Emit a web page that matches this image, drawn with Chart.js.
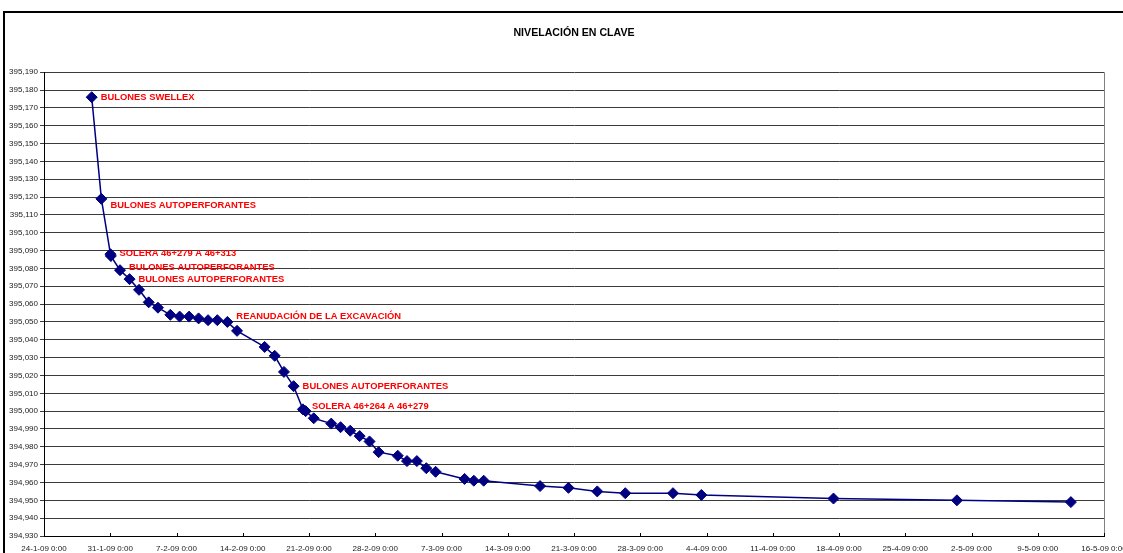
<!DOCTYPE html>
<html>
<head>
<meta charset="utf-8">
<title>Nivelación en clave</title>
<script src="https://cdn.jsdelivr.net/npm/chart.js@4.4.0/dist/chart.umd.min.js"></script>
<style>
    html, body { margin: 0; padding: 0; background: #fff; overflow: hidden; }
    #wrap { position: relative; width: 1123px; height: 553px; overflow: hidden; }
    #frame { position: absolute; left: 3px; top: 11px; width: 1200px; height: 600px;
             border-top: 2px solid #000; border-left: 2px solid #000; }
    #chart { position: absolute; left: 0; top: 0; }
</style>
</head>
<body>
<div id="wrap">
    <div id="frame"></div>
    <canvas id="chart" width="1123" height="553"></canvas>
</div>
<script>
// ================= DATA =================
const startDate = "2009-01-24T00:00";
const endDate = "2009-05-16T00:00";

const readingDates = [
    "2009-01-29T01:00", "2009-01-30T01:30", "2009-01-31T00:30", "2009-01-31T01:30",
    "2009-02-01T00:45", "2009-02-02T01:00", "2009-02-03T01:00", "2009-02-04T01:30",
    "2009-02-05T01:00", "2009-02-06T08:24", "2009-02-07T08:00", "2009-02-08T08:00",
    "2009-02-09T08:00", "2009-02-10T08:00", "2009-02-11T07:30", "2009-02-12T09:00",
    "2009-02-13T09:30", "2009-02-16T07:30", "2009-02-17T09:00", "2009-02-18T08:30",
    "2009-02-19T09:00", "2009-02-20T08:30", "2009-02-20T15:30", "2009-02-21T12:00",
    "2009-02-23T08:30", "2009-02-24T08:00", "2009-02-25T08:30", "2009-02-26T08:30",
    "2009-02-27T09:30", "2009-02-28T08:30", "2009-03-02T09:00", "2009-03-03T08:30",
    "2009-03-04T09:30", "2009-03-05T09:30", "2009-03-06T09:00", "2009-03-09T10:30",
    "2009-03-10T10:00", "2009-03-11T11:00", "2009-03-17T10:00", "2009-03-20T10:00",
    "2009-03-23T11:00", "2009-03-26T10:00", "2009-03-31T11:00", "2009-04-03T11:00",
    "2009-04-17T10:00", "2009-04-30T11:00", "2009-05-12T12:00"
];

const levels = [
    395.176, 395.119, 395.088, 395.087,
    395.079, 395.074, 395.068, 395.061,
    395.058, 395.054, 395.053, 395.053,
    395.052, 395.051, 395.051, 395.050,
    395.045, 395.036, 395.031, 395.022,
    395.014, 395.001, 395.000, 394.996,
    394.993, 394.991, 394.989, 394.986,
    394.983, 394.977, 394.975, 394.972,
    394.972, 394.968, 394.966, 394.962,
    394.961, 394.961, 394.958, 394.957,
    394.955, 394.954, 394.954, 394.953,
    394.951, 394.950, 394.949
];

// note text per reading ("" = none)
const notes = [
    "BULONES SWELLEX", "BULONES AUTOPERFORANTES", "SOLERA 46+279 A 46+313", "",
    "BULONES AUTOPERFORANTES", "BULONES AUTOPERFORANTES", "", "",
    "", "", "", "",
    "", "", "", "REANUDACIÓN DE LA EXCAVACIÓN",
    "", "", "", "",
    "BULONES AUTOPERFORANTES", "SOLERA 46+264 A 46+279", "", "",
    "", "", "", "", "", "", "", "", "", "", "", "", "", "", "", "", "", "", "", "", "", "", ""
];

const yMin = 394.93;
const yMax = 395.19;
const yStep = 0.01;
const xStepDays = 7;

// ================= HELPERS =================
const DAY = 86400000;
const t0 = Date.parse(startDate + "Z");
const dayOffset = s => (Date.parse(s + "Z") - t0) / DAY;

function dateLabel(days) {
    const d = new Date(t0 + Math.round(days) * DAY);
    const yy = String(d.getUTCFullYear()).slice(2);
    return `${d.getUTCDate()}-${d.getUTCMonth() + 1}-${yy} 0:00`;
}

const points = readingDates.map((s, i) => ({ x: dayOffset(s), y: levels[i] }));

// small vertical nudges for the red notes (px)
const noteNudge = { 1: 7, 2: -1, 4: -3, 15: -6, 21: -3 };

// ================= PLUGIN: notes, right border, inner x ticks =================
const extras = {
    id: "extras",
    beforeDatasetsDraw(chart) {
        const { ctx, chartArea, scales: { x } } = chart;
        ctx.save();
        ctx.strokeStyle = "#808080";
        ctx.lineWidth = 1;
        const rx = Math.round(chartArea.right) + 0.5;
        ctx.beginPath();
        ctx.moveTo(rx, chartArea.top);
        ctx.lineTo(rx, chartArea.bottom);
        ctx.stroke();

        ctx.strokeStyle = "#000";
        x.ticks.forEach(t => {
            const px = Math.round(x.getPixelForValue(t.value)) + 0.5;
            ctx.beginPath();
            ctx.moveTo(px, chartArea.bottom);
            ctx.lineTo(px, chartArea.bottom - 3);
            ctx.stroke();
        });
        ctx.restore();
    },
    afterDatasetsDraw(chart) {
        const { ctx } = chart;
        const meta = chart.getDatasetMeta(0);
        ctx.save();
        ctx.font = 'bold 9.4px "Liberation Sans", Arial, sans-serif';
        ctx.fillStyle = "#ff0000";
        ctx.textAlign = "left";
        ctx.textBaseline = "middle";
        notes.forEach((txt, i) => {
            if (!txt) return;
            const p = meta.data[i];
            ctx.fillText(txt, p.x + 9, p.y + (noteNudge[i] || 0));
        });
        ctx.restore();
    }
};

// ================= CHART =================
Chart.defaults.font.family = '"Liberation Sans", Arial, sans-serif';

new Chart(document.getElementById("chart"), {
    type: "line",
    data: {
        datasets: [{
            data: points,
            borderColor: "#000080",
            borderWidth: 1.5,
            pointStyle: "rectRot",
            pointRadius: 5.5,
            pointBackgroundColor: "#000080",
            pointBorderColor: "#000080",
            pointBorderWidth: 1,
            tension: 0,
            clip: false
        }]
    },
    options: {
        responsive: false,
        animation: false,
        devicePixelRatio: 1,
        layout: { padding: { left: 0, right: 19, top: 0, bottom: 0 } },
        plugins: {
            legend: { display: false },
            tooltip: { enabled: false },
            title: {
                display: true,
                fullSize: false,
                text: "NIVELACIÓN EN CLAVE",
                color: "#000",
                font: { size: 10.6, weight: "bold" },
                padding: { top: 27, bottom: 32.5 }
            }
        },
        scales: {
            x: {
                type: "linear",
                min: 0,
                max: dayOffset(endDate),
                afterFit: s => { s.height = 17; s.paddingLeft = 0; s.paddingRight = 0; },
                ticks: {
                    stepSize: xStepDays,
                    autoSkip: false,
                    maxRotation: 0,
                    color: "#222",
                    font: { size: 8 },
                    padding: 8,
                    callback: v => dateLabel(v)
                },
                grid: { drawOnChartArea: false, drawTicks: false },
                border: { color: "#000", width: 1 }
            },
            y: {
                min: yMin,
                max: yMax,
                afterFit: s => { s.width = 44; s.paddingTop = 0; s.paddingBottom = 0; },
                ticks: {
                    stepSize: yStep,
                    autoSkip: false,
                    color: "#222",
                    font: { size: 8 },
                    padding: 2,
                    callback: v => v.toFixed(3).replace(".", ",")
                },
                grid: { color: "#3a3a3a", lineWidth: 1, tickLength: 4 },
                border: { color: "#000", width: 1 }
            }
        }
    },
    plugins: [extras]
});
</script>
</body>
</html>
